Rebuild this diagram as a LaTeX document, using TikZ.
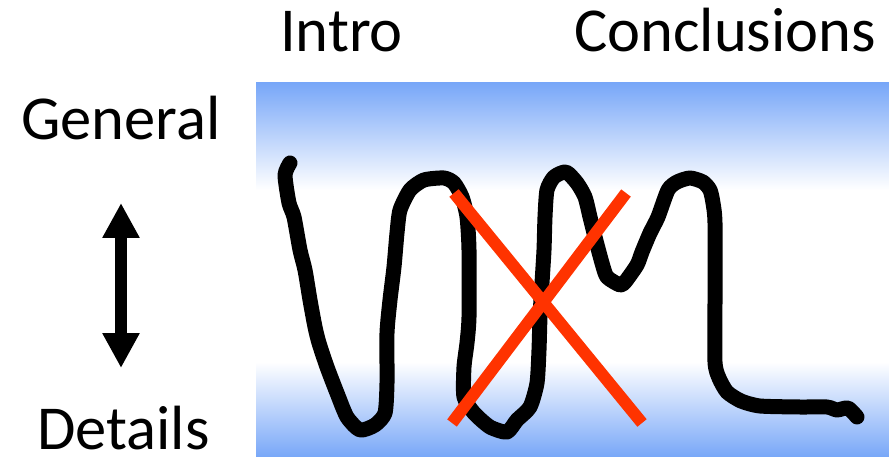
\documentclass[tikz,border=0pt]{standalone}
\usepackage{fontspec}
\setmainfont{Carlito}
\usetikzlibrary{arrows.meta}
\definecolor{bandblue}{RGB}{120,167,248}
\definecolor{crossred}{RGB}{255,51,0}
\tikzstyle{label} = [inner sep=0,anchor=base west,font=\fontsize{62.5}{75}\selectfont]
\tikzstyle{scribble} = [line width=15pt,line cap=round,line join=round]
\tikzstyle{cross} = [line width=12pt,crossred]

\begin{document}
\begin{tikzpicture}[x=1pt,y=-1pt]
      \useasboundingbox (0,0) rectangle (889,457);
      % blue bands above and below, white in between
      \shade[top color=bandblue,bottom color=white] (256,83) rectangle (889,190);
      \shade[top color=white,bottom color=bandblue] (256,362) rectangle (889,457);
      \node[label] (intro) at (280,52) {Intro};
      \node[label] (concl) at (574,52) {Conclusions};
      \node[label] (general) at (21,140) {General};
      \node[label] (details) at (37,449) {Details};
      \coordinate (gtip) at (121,203);
      \coordinate (dtip) at (121,368);
      \draw[line width=12pt,{Triangle[width=35pt,length=35pt]}-{Triangle[width=35pt,length=35pt]}] (gtip) -- (dtip);
      % the hand drawn curve
      \draw[scribble] plot[smooth,tension=0.4] coordinates {
        (290,163) (285,175) (289,203) (294,217) (300,250) (305,270) (310,300)
        (315,327) (319,343) (327,367) (337,393) (347,417) (360,430) (375,425)
        (385,413) (387,383) (387,333) (390,300) (394,267) (397,233) (400,210)
        (410,190) (424,180) (444,178) (454,183) (462,197) (467,217) (469,250)
        (469,317) (467,343) (464,367) (464,397) (474,413) (490,427) (507,432)
        (517,420) (530,407) (537,383) (539,350) (540,317) (542,283) (544,250)
        (545,217) (547,190) (554,177) (566,172) (577,183) (585,197) (590,217)
        (595,237) (602,263) (607,277) (620,285) (625,282) (637,265) (642,252)
        (650,233) (658,217) (668,190) (677,182) (690,178) (703,182) (710,190)
        (713,203) (715,223) (715,300) (715,362) (719,378) (727,392) (741,401)
        (760,406) (800,407) (827,407) (837,410) (848,408) (857,417)};
      % crossed out
      \draw[cross] (454,193) -- (642,423);
      \draw[cross] (452,423) -- (626,193);
    \end{tikzpicture}
\end{document}
